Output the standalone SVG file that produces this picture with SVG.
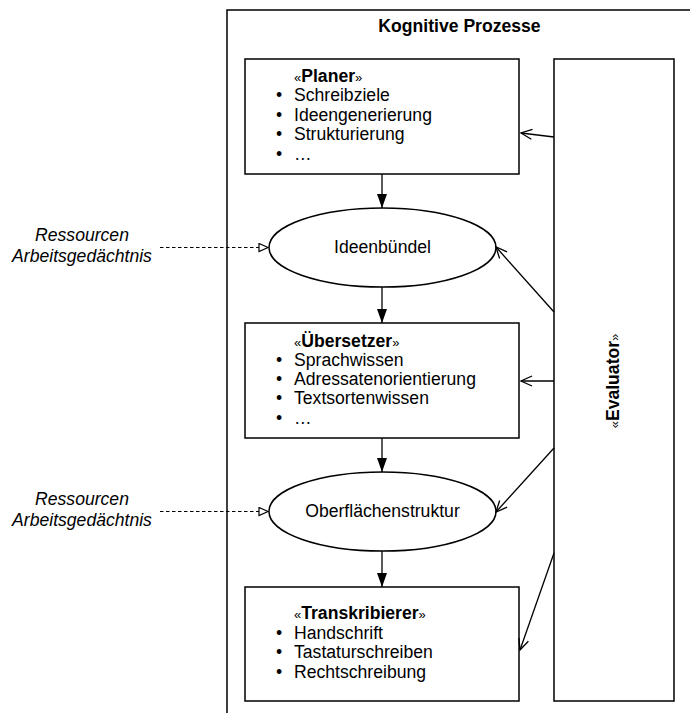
<svg xmlns="http://www.w3.org/2000/svg" width="690" height="713" viewBox="0 0 690 713">
<style>
text{font-family:"Liberation Sans",Arial,sans-serif;font-size:17.6px;fill:#000}
.b{font-weight:bold}
.g{font-weight:normal;font-size:13px}
.i{font-style:italic}
.box{fill:#fff;stroke:#000;stroke-width:1.5}
.c{fill:none;stroke:#000;stroke-width:1.3}
.d{fill:none;stroke:#000;stroke-width:1.2;stroke-dasharray:3.5,2.5}
</style>
<defs>
<marker id="fa" markerUnits="userSpaceOnUse" markerWidth="14" markerHeight="10" refX="14" refY="5" orient="auto"><path d="M0,0 L14,5 L0,10 z" fill="#000"/></marker>
<marker id="oa" markerUnits="userSpaceOnUse" markerWidth="14" markerHeight="12" refX="12" refY="6" orient="auto"><path d="M1,1 L12,6 L1,11" fill="none" stroke="#000" stroke-width="1.3"/></marker>
<marker id="ha" markerUnits="userSpaceOnUse" markerWidth="12" markerHeight="10" refX="10" refY="5" orient="auto"><path d="M1,1 L10,5 L1,9 z" fill="#fff" stroke="#000" stroke-width="1.2"/></marker>
</defs>
<g id="frame">
<rect x="227" y="10" width="470" height="720" fill="#fff" stroke="#000" stroke-width="1.5"/>
<text class="b" x="459.5" y="32" text-anchor="middle">Kognitive Prozesse</text>
</g>
<g id="planer">
<rect class="box" x="245" y="59" width="274" height="115"/>
<text x="294" y="82"><tspan class="g">«</tspan><tspan class="b">Planer</tspan><tspan class="g">»</tspan></text>
<text x="276" y="101">•</text><text x="294" y="101">Schreibziele</text>
<text x="276" y="121">•</text><text x="294" y="121">Ideengenerierung</text>
<text x="276" y="140">•</text><text x="294" y="140">Strukturierung</text>
<text x="276" y="160">•</text><text x="294" y="160">…</text>
</g>
<g id="ideenbuendel">
<ellipse class="box" cx="382.5" cy="247.5" rx="113.5" ry="39.5"/>
<text x="382.5" y="253" text-anchor="middle">Ideenbündel</text>
</g>
<g id="uebersetzer">
<rect class="box" x="245" y="323" width="274" height="115"/>
<text x="294" y="347"><tspan class="g">«</tspan><tspan class="b">Übersetzer</tspan><tspan class="g">»</tspan></text>
<text x="276" y="366">•</text><text x="294" y="366">Sprachwissen</text>
<text x="276" y="385">•</text><text x="294" y="385">Adressatenorientierung</text>
<text x="276" y="404">•</text><text x="294" y="404">Textsortenwissen</text>
<text x="276" y="424">•</text><text x="294" y="424">…</text>
</g>
<g id="oberflaechenstruktur">
<ellipse class="box" cx="382.5" cy="511.5" rx="113.5" ry="39.5"/>
<text x="382.5" y="517" text-anchor="middle">Oberflächenstruktur</text>
</g>
<g id="transkribierer">
<rect class="box" x="245" y="587" width="274" height="114"/>
<text x="294" y="619"><tspan class="g">«</tspan><tspan class="b">Transkribierer</tspan><tspan class="g">»</tspan></text>
<text x="276" y="639">•</text><text x="294" y="639">Handschrift</text>
<text x="276" y="658">•</text><text x="294" y="658">Tastaturschreiben</text>
<text x="276" y="678">•</text><text x="294" y="678">Rechtschreibung</text>
</g>
<g id="evaluator">
<rect class="box" x="554" y="59" width="120" height="642"/>
<text transform="translate(619,381) rotate(-90)" text-anchor="middle"><tspan class="g">«</tspan><tspan class="b">Evaluator</tspan><tspan class="g">»</tspan></text>
</g>
<g id="res1">
<text class="i" x="82" y="241" text-anchor="middle">Ressourcen</text>
<text class="i" x="82" y="262" text-anchor="middle">Arbeitsgedächtnis</text>
</g>
<g id="res2">
<text class="i" x="82" y="505" text-anchor="middle">Ressourcen</text>
<text class="i" x="82" y="526" text-anchor="middle">Arbeitsgedächtnis</text>
</g>
<g id="connectors">
<line class="c" x1="382" y1="174" x2="382" y2="208" marker-end="url(#fa)"/>
<line class="c" x1="382" y1="287" x2="382" y2="323" marker-end="url(#fa)"/>
<line class="c" x1="382" y1="438" x2="382" y2="472" marker-end="url(#fa)"/>
<line class="c" x1="382" y1="551" x2="382" y2="587" marker-end="url(#fa)"/>
<line class="c" x1="554" y1="137" x2="521" y2="133" marker-end="url(#oa)"/>
<line class="c" x1="554" y1="312" x2="496" y2="247" marker-end="url(#oa)"/>
<line class="c" x1="554" y1="381" x2="521" y2="381" marker-end="url(#oa)"/>
<line class="c" x1="554" y1="448" x2="496" y2="512" marker-end="url(#oa)"/>
<line class="c" x1="554" y1="553" x2="520" y2="650" marker-end="url(#oa)"/>
<line class="d" x1="160" y1="247.5" x2="268" y2="247.5" marker-end="url(#ha)"/>
<line class="d" x1="160" y1="511.5" x2="268" y2="511.5" marker-end="url(#ha)"/>
</g>
</svg>
